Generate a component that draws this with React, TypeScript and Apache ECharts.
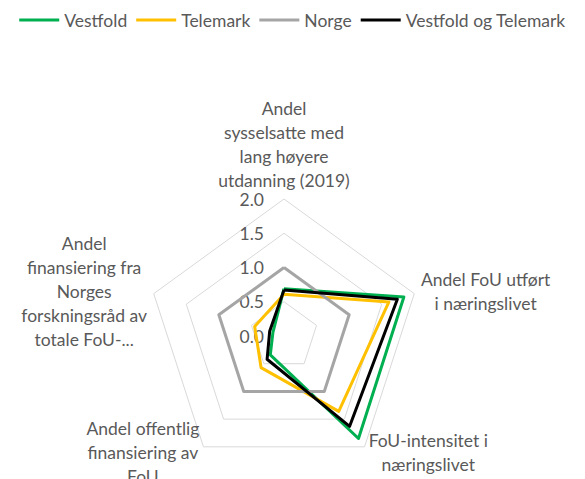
import React, { useEffect, useRef } from "react";
import * as echarts from "echarts";

// Indicators, listed counter-clockwise from the top (ECharts radar order)
const indicatorNames = [
  "Andel\nsysselsatte med\nlang høyere\nutdanning (2019)",
  "Andel\nfinansiering fra\nNorges\nforskningsråd av\ntotale FoU-...",
  "Andel offentlig\nfinansiering av\nFoU",
  "FoU-intensitet i\nnæringslivet",
  "Andel FoU utført\ni næringslivet",
];

const tickValues = [0, 0.5, 1.0, 1.5, 2.0];

const seriesNames = ["Vestfold", "Telemark", "Norge", "Vestfold og Telemark"];
const seriesColors = ["#00b050", "#ffc000", "#a5a5a5", "#000000"];

const vestfold = [0.69, 0.17, 0.34, 1.85, 1.84];
const telemark = [0.61, 0.45, 0.57, 1.36, 1.61];
const norge = [1.0, 1.0, 1.0, 1.0, 1.0];
const vestfoldOgTelemark = [0.67, 0.22, 0.42, 1.63, 1.74];

const seriesValues = [vestfold, telemark, norge, vestfoldOgTelemark];

const FONT = "Lato";
const FS = 17.5;
const TEXT_COLOR = "#595959";

export default function App() {
  const ref = useRef<HTMLDivElement>(null);

  useEffect(() => {
    if (!ref.current) return;
    const chart = echarts.init(ref.current, null, { renderer: "svg" });
    const tMin = tickValues[0];
    const tMax = tickValues[tickValues.length - 1];
    const option: any = {
      animation: false,
      color: seriesColors,
      legend: {
        top: 6,
        left: "center",
        icon: "rect",
        itemWidth: 40,
        itemHeight: 3,
        itemGap: 9,
        textStyle: { fontSize: FS, color: TEXT_COLOR, fontFamily: FONT },
        data: seriesNames,
      },
      radar: {
        center: [284, 336],
        radius: 137,
        startAngle: 90,
        shape: "polygon",
        splitNumber: tickValues.length - 1,
        nameGap: 7,
        axisLine: { show: false },
        axisTick: { show: false },
        splitArea: { show: false },
        splitLine: { lineStyle: { color: "#d9d9d9", width: 1 } },
        axisLabel: { show: false },
        axisName: {
          color: TEXT_COLOR,
          fontSize: FS,
          fontFamily: FONT,
          formatter: (name: string) =>
            name
              .split("\n")
              .map((l) => `{c|${l}}`)
              .join("\n"),
          rich: {
            c: {
              align: "center",
              fontSize: FS,
              lineHeight: 24,
              color: TEXT_COLOR,
              fontFamily: FONT,
            },
          },
        },
        indicator: indicatorNames.map((name, i) => {
          const ind: any = { name, min: tMin, max: tMax };
          if (i === 0) {
            ind.axisLabel = {
              show: true,
              color: TEXT_COLOR,
              fontSize: FS,
              fontFamily: FONT,
              margin: 20,
              showMinLabel: true,
              showMaxLabel: true,
              formatter: (v: number) => Number(v).toFixed(1),
            };
          }
          return ind;
        }),
      },
      series: [
        {
          type: "radar",
          symbol: "none",
          data: seriesNames.map((name, i) => ({
            name,
            value: seriesValues[i],
            itemStyle: { color: seriesColors[i] },
            lineStyle: { color: seriesColors[i], width: 3 },
          })),
        },
      ],
    };
    chart.setOption(option);
    return () => chart.dispose();
  }, []);

  return (
    <div
      ref={ref}
      style={{ position: "fixed", left: 0, top: 0, width: 585, height: 479, background: "#fff" }}
    />
  );
}
